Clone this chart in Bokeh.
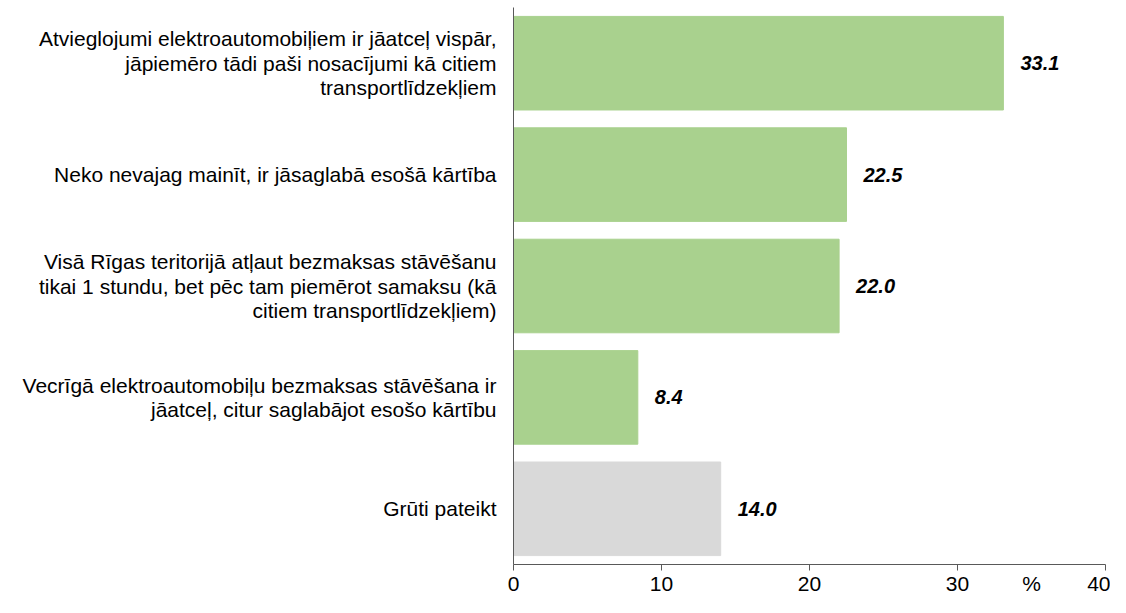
from bokeh.plotting import figure
from bokeh.models import ColumnDataSource, FixedTicker, FactorRange
from bokeh.core.properties import value
from bokeh.embed import file_html
from bokeh.resources import INLINE

categories = [
    "Atvieglojumi elektroautomobiļiem ir jāatceļ vispār,\njāpiemēro tādi paši nosacījumi kā citiem\ntransportlīdzekļiem",
    "Neko nevajag mainīt, ir jāsaglabā esošā kārtība",
    "Visā Rīgas teritorijā atļaut bezmaksas stāvēšanu\ntikai 1 stundu, bet pēc tam piemērot samaksu (kā\ncitiem transportlīdzekļiem)",
    "Vecrīgā elektroautomobiļu bezmaksas stāvēšana ir\njāatceļ, citur saglabājot esošo kārtību",
    "Grūti pateikt",
]
values = [33.1, 22.5, 22.0, 8.4, 14.0]
colors = ["#A9D18E", "#A9D18E", "#A9D18E", "#A9D18E", "#D9D9D9"]
x_ticks = [0, 10, 20, 30, 40]
unit_pos = 35
unit_label = "%"

FONT = "Liberation Sans"

src = ColumnDataSource(dict(
    cat=categories,
    val=values,
    color=colors,
    lbl=[f"{v:.1f}" for v in values],
))

p = figure(
    width=1110, height=597,
    y_range=FactorRange(*list(reversed(categories)), range_padding=0),
    x_range=(0, 40),
    output_backend="svg", toolbar_location=None,
    min_border_left=513, min_border_right=5, min_border_top=7, min_border_bottom=0,
)
p.outline_line_color = None
p.xgrid.visible = False
p.ygrid.visible = False

p.hbar(y="cat", right="val", left=0, height=0.84, color="color", source=src)
p.text(x="val", y="cat", text="lbl", source=src, x_offset=17,
       text_align="left", text_baseline="middle",
       text_font=value(FONT), text_font_size="20px",
       text_font_style="bold italic", text_color="black")

label_ticks = sorted(x_ticks + [unit_pos])
ax = p.xaxis[0]
ax.ticker = FixedTicker(ticks=label_ticks, minor_ticks=x_ticks)
ax.major_label_overrides = {unit_pos: unit_label}
ax.axis_line_color = "#595959"
ax.major_tick_line_color = None
ax.major_tick_out = 6
ax.major_tick_in = 0
ax.minor_tick_line_color = "#595959"
ax.minor_tick_out = 6
ax.minor_tick_in = 0
ax.major_label_text_font = FONT
ax.major_label_text_font_size = "21px"
ax.major_label_text_color = "black"
ax.major_label_text_line_height = 1.0
ax.major_label_standoff = 1
ax.axis_label_standoff = 0

ay = p.yaxis[0]
ay.axis_line_color = "#595959"
ay.major_tick_line_color = None
ay.minor_tick_line_color = None
ay.major_label_text_font = FONT
ay.major_label_text_font_size = "21px"
ay.major_label_text_line_height = 1.07
ay.major_label_text_color = "black"
ay.major_label_standoff = 11

open("out.html", "w").write(file_html(p, INLINE))
